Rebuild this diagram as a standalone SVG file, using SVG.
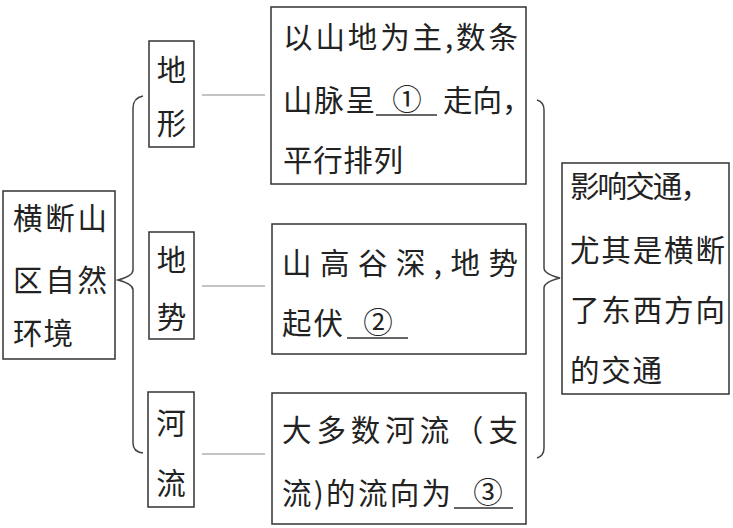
<svg xmlns="http://www.w3.org/2000/svg" width="733" height="528" viewBox="0 0 733 528">
<style>
.box{fill:#fff;stroke:#333;stroke-width:1.5}
.t{font-family:"Noto Sans CJK SC","Noto Sans",sans-serif;font-size:29.5px;fill:#222}
.c{text-anchor:middle}
.br{fill:none;stroke:#444;stroke-width:1.5}
.ln{stroke:#888;stroke-width:1.2}
.ul{stroke:#333;stroke-width:1.5}
</style>
<rect width="733" height="528" fill="#fff"/>
<g id="connectors">
<path class="br" d="M143,96 Q133,98 133,108 L133,270 Q133,276 118,280 Q133,284 133,290 L133,443 Q133,452 143,453"/>
<path class="br" d="M537,100 Q544,102 544,110 L544,268 Q544,274 560,278 Q544,282 544,288 L544,448 Q544,456 537,458"/>
<line class="ln" x1="202" y1="95" x2="265" y2="95"/>
<line class="ln" x1="202" y1="286" x2="265" y2="286"/>
<line class="ln" x1="202" y1="454" x2="265" y2="454"/>
</g>
<g id="root">
<rect class="box" x="3" y="191" width="112" height="168"/>
<text class="t" x="13" y="229" textLength="94" lengthAdjust="spacing">横断山</text>
<text class="t" x="13" y="291" textLength="94" lengthAdjust="spacing">区自然</text>
<text class="t" x="13" y="344" textLength="60" lengthAdjust="spacing">环境</text>
</g>
<g id="terrain">
<rect class="box" x="149" y="41" width="45" height="106"/>
<text class="t c" x="171.5" y="81">地</text>
<text class="t c" x="171.5" y="134">形</text>
</g>
<g id="relief">
<rect class="box" x="149" y="232" width="45" height="107"/>
<text class="t c" x="171.5" y="271">地</text>
<text class="t c" x="171.5" y="328">势</text>
</g>
<g id="rivers">
<rect class="box" x="148" y="392" width="46" height="115"/>
<text class="t c" x="171" y="434">河</text>
<text class="t c" x="171" y="494">流</text>
</g>
<g id="terrain-desc">
<rect class="box" x="271" y="7" width="255" height="177"/>
<text class="t" x="283" y="48" textLength="235" lengthAdjust="spacing">以山地为主,数条</text>
<text class="t" x="283" y="111" textLength="92" lengthAdjust="spacing">山脉呈</text>
<line class="ul" x1="376" y1="115" x2="437" y2="115"/>
<text class="t c" x="407" y="110">①</text>
<text class="t" x="443" y="111">走向，</text>
<text class="t" x="283" y="171" textLength="120" lengthAdjust="spacing">平行排列</text>
</g>
<g id="relief-desc">
<rect class="box" x="272" y="224" width="254" height="130"/>
<text class="t" x="282" y="274" textLength="236" lengthAdjust="spacing">山高谷深,地势</text>
<text class="t" x="282" y="334" textLength="61" lengthAdjust="spacing">起伏</text>
<line class="ul" x1="347" y1="338" x2="408" y2="338"/>
<text class="t c" x="378" y="333">②</text>
</g>
<g id="rivers-desc">
<rect class="box" x="272" y="393" width="254" height="131"/>
<text class="t" x="282" y="441" textLength="236" lengthAdjust="spacing">大多数河流（支</text>
<text class="t" x="282" y="504" textLength="169" lengthAdjust="spacing">流)的流向为</text>
<line class="ul" x1="454" y1="508" x2="513" y2="508"/>
<text class="t c" x="488" y="503">③</text>
</g>
<g id="impact">
<rect class="box" x="562" y="163" width="167" height="231"/>
<text class="t" x="570" y="197" textLength="140" lengthAdjust="spacing">影响交通，</text>
<text class="t" x="570" y="261" textLength="155" lengthAdjust="spacing">尤其是横断</text>
<text class="t" x="570" y="321" textLength="155" lengthAdjust="spacing">了东西方向</text>
<text class="t" x="570" y="381" textLength="92" lengthAdjust="spacing">的交通</text>
</g>
</svg>
